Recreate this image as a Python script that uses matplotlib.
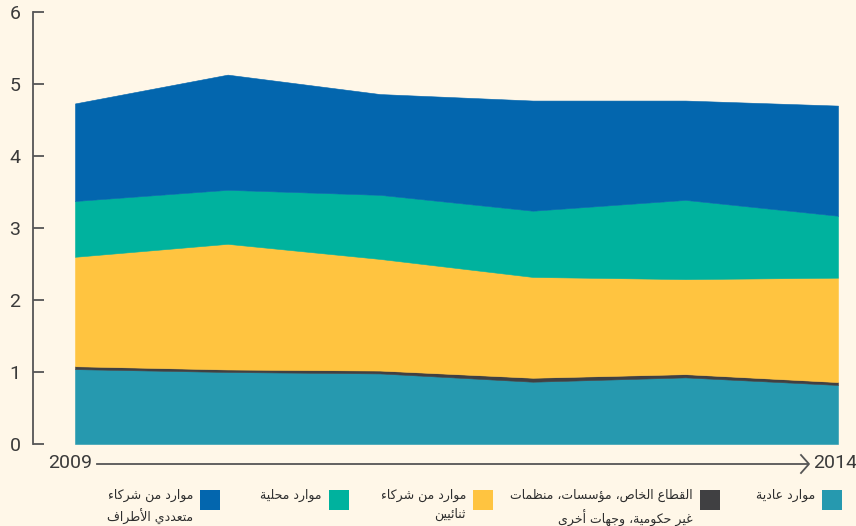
import matplotlib.pyplot as plt
from matplotlib.patches import Rectangle

# data
years = [2009, 2010, 2011, 2012, 2013, 2014]
regular = [1.04, 1.00, 0.98, 0.865, 0.925, 0.82]
private = [0.04, 0.035, 0.04, 0.055, 0.045, 0.04]
bilateral = [1.52, 1.745, 1.55, 1.40, 1.32, 1.45]
local = [0.775, 0.75, 0.89, 0.92, 1.10, 0.86]
multilateral = [1.355, 1.60, 1.40, 1.53, 1.38, 1.53]

labels = ['موارد عادية',
          'القطاع الخاص، مؤسسات، منظمات\nغير حكومية، وجهات أخرى',
          'موارد من شركاء\nثنائيين',
          'موارد محلية',
          'موارد من شركاء\nمتعددي الأطراف']
colors = ['#2699AF', '#404042', '#FFC440', '#00B29E', '#0366AE']
bg = '#FFF7E8'
grey = '#555555'

# --- simple arabic shaping (matplotlib has no complex text layout) ---
forms = {}
code = 0xFE80
for ch, n in [('ء', 1), ('آ', 2), ('أ', 2), ('ؤ', 2), ('إ', 2), ('ئ', 4), ('ا', 2),
              ('ب', 4), ('ة', 2), ('ت', 4), ('ث', 4), ('ج', 4), ('ح', 4), ('خ', 4),
              ('د', 2), ('ذ', 2), ('ر', 2), ('ز', 2), ('س', 4), ('ش', 4), ('ص', 4),
              ('ض', 4), ('ط', 4), ('ظ', 4), ('ع', 4), ('غ', 4), ('ف', 4), ('ق', 4),
              ('ك', 4), ('ل', 4), ('م', 4), ('ن', 4), ('ه', 4), ('و', 2), ('ى', 2),
              ('ي', 4)]:
    forms[ch] = [chr(code + i) for i in range(n)]
    code += n
lamalef = {'آ': (0xFEF5, 0xFEF6), 'أ': (0xFEF7, 0xFEF8),
           'إ': (0xFEF9, 0xFEFA), 'ا': (0xFEFB, 0xFEFC)}


def nforms(t):
    if isinstance(t, tuple):
        return 2
    return len(forms.get(t, []))


def shape_line(s):
    toks = []
    i = 0
    while i < len(s):
        if s[i] == 'ل' and i + 1 < len(s) and s[i + 1] in lamalef:
            toks.append(('LA', s[i + 1]))
            i += 2
        else:
            toks.append(s[i])
            i += 1
    out = []
    for k, t in enumerate(toks):
        prev = toks[k - 1] if k > 0 else None
        nxt = toks[k + 1] if k + 1 < len(toks) else None
        jp = prev is not None and nforms(prev) == 4 and nforms(t) >= 2
        jn = nforms(t) == 4 and nxt is not None and nforms(nxt) >= 2
        if isinstance(t, tuple):
            out.append(chr(lamalef[t[1]][1 if jp else 0]))
        elif t in forms:
            f = forms[t]
            if jp and jn:
                out.append(f[3])
            elif jp:
                out.append(f[1])
            elif jn:
                out.append(f[2])
            else:
                out.append(f[0])
        else:
            out.append(t)
    return ''.join(reversed(out))


def shape(s):
    return '\n'.join(shape_line(l) for l in s.split('\n'))


W, H = 856, 526
fig = plt.figure(figsize=(W / 100, H / 100), dpi=100, facecolor=bg)


def px(x, y):
    return x / W, 1 - y / H


ax = fig.add_axes([33 / W, 82 / H, 823 / W, 432 / H])
ax.set_facecolor(bg)
polys = ax.stackplot(years, regular, private, bilateral, local, multilateral,
                     colors=colors, linewidth=0.4)
for p, c in zip(polys, colors):
    p.set_edgecolor(c)

ax.set_xlim(2009 - 42 / 152.6, 2014 + 18 / 152.6)
ax.set_ylim(0, 6)
for s in ['top', 'right', 'bottom']:
    ax.spines[s].set_visible(False)
ax.spines['left'].set_color(grey)
ax.spines['left'].set_linewidth(1.3)
ax.set_xticks([])
ax.set_yticks(range(7))
ax.tick_params(axis='y', direction='in', length=8, width=1.3, color=grey,
               pad=9, labelsize=14, labelcolor='#3a3a3a')
for t in ax.get_yticklabels():
    t.set_fontfamily('Roboto')

# x axis arrow
fig.add_artist(plt.Line2D([px(97, 0)[0], px(808, 0)[0]], [px(0, 464)[1]] * 2,
                          color=grey, lw=1.3))
fig.add_artist(plt.Line2D([px(801, 0)[0], px(809, 0)[0], px(801, 0)[0]],
                          [px(0, 455)[1], px(0, 464)[1], px(0, 473)[1]],
                          color=grey, lw=1.3))
fig.text(*px(92, 463), '2009', ha='right', va='center', fontsize=14,
         family='Roboto', color='#3a3a3a')
fig.text(*px(813, 463), '2014', ha='left', va='center', fontsize=14,
         family='Roboto', color='#3a3a3a')

# legend
sq_x = [822, 700, 473, 329, 200]
for x0, lab, c in zip(sq_x, labels, colors):
    fig.add_artist(Rectangle(px(x0, 510), 20 / W, 20 / H, facecolor=c,
                             edgecolor='none', transform=fig.transFigure))
    fig.text(*px(x0 - 7, 489), shape(lab), ha='right', va='top', fontsize=9,
             family='DejaVu Sans', color='#2e2e2e', linespacing=1.55,
             multialignment='right')

fig.savefig('out.png', dpi=100, facecolor=bg)
